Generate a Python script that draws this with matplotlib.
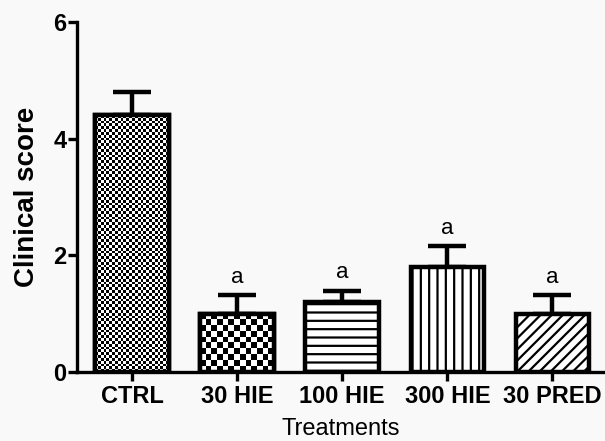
import numpy as np
import matplotlib
matplotlib.use("Agg")
import matplotlib.pyplot as plt

# dados
tratamentos = ["CTRL", "30 HIE", "100 HIE", "300 HIE", "30 PRED"]
medias = [4.4, 1.0, 1.2, 1.8, 1.0]
erros = [0.4, 0.32, 0.2, 0.37, 0.32]
letras = ["", "a", "a", "a", "a"]

plt.rcParams['font.family'] = ['Liberation Sans', 'DejaVu Sans']
plt.rcParams['hatch.linewidth'] = 1.6

fig = plt.figure(figsize=(6.05, 4.41), dpi=100)
fig.patch.set_facecolor('#f9f9f9')
ax = fig.add_axes([0.127, 0.156, 0.873, 0.794])
ax.set_facecolor('none')

x = np.arange(len(tratamentos))
hachuras = [None, None, '--', '||', '///']
barras = ax.bar(x, medias, width=0.7, color='white', edgecolor='black',
                linewidth=3.2, zorder=2)
for b, h in zip(barras, hachuras):
    if h:
        b.set_hatch(h)

ax.errorbar(x, medias, yerr=[np.zeros(len(erros)), erros], fmt='none',
            ecolor='black', elinewidth=3.2, capsize=14, capthick=3.2, zorder=1)

ax.set_xlim(-0.525, 4.5)
ax.set_ylim(0, 6)

# padrao xadrez (CTRL fino, 30 HIE grosso)
xadrez = {0: 26, 1: 13}
for i, n in xadrez.items():
    b = barras[i]
    x0, y0 = b.get_x(), b.get_y()
    w, hgt = b.get_width(), b.get_height()
    p0 = ax.transData.transform((x0, y0))
    p1 = ax.transData.transform((x0 + w, y0 + hgt))
    lado = (p1[0] - p0[0]) / n
    linhas = max(1, int(round((p1[1] - p0[1]) / lado)))
    img = (np.add.outer(np.arange(linhas), np.arange(n)) % 2).astype(float)
    im = ax.imshow(img, cmap='gray', extent=(x0, x0 + w, y0, y0 + hgt),
                   interpolation='nearest', aspect='auto', zorder=2.5, vmin=0, vmax=1)
    im.set_clip_path(b)
    ax.bar(x0 + w / 2, hgt, width=w, bottom=y0, color='none', edgecolor='black',
           linewidth=3.2, zorder=3)
ax.set_aspect('auto')
ax.set_xlim(-0.525, 4.5)
ax.set_ylim(0, 6)

for xi, m, e, l in zip(x, medias, erros, letras):
    if l:
        ax.text(xi, m + e + 0.3, l, ha='center', va='center', fontsize=16)

ax.spines['top'].set_visible(False)
ax.spines['right'].set_visible(False)
ax.spines['left'].set_linewidth(2.4)
ax.spines['bottom'].set_linewidth(2.4)
ax.set_yticks([0, 2, 4, 6])
ax.set_xticks(x)
ax.set_xticklabels(tratamentos, fontsize=17, fontweight='bold')
ax.tick_params(axis='both', width=2.4, length=6.5)
ax.tick_params(axis='x', pad=3)
ax.tick_params(axis='y', pad=1)
for t in ax.get_yticklabels():
    t.set_fontsize(17)
    t.set_fontweight('bold')

ax.set_ylabel("Clinical score", fontsize=20, fontweight='bold')
ax.yaxis.set_label_coords(-0.07, 0.5)
fig.text(0.5635, 0.028, "Treatments", fontsize=17, ha='center', va='center')

plt.savefig("out.png", dpi=100, facecolor=fig.get_facecolor())
plt.close()
